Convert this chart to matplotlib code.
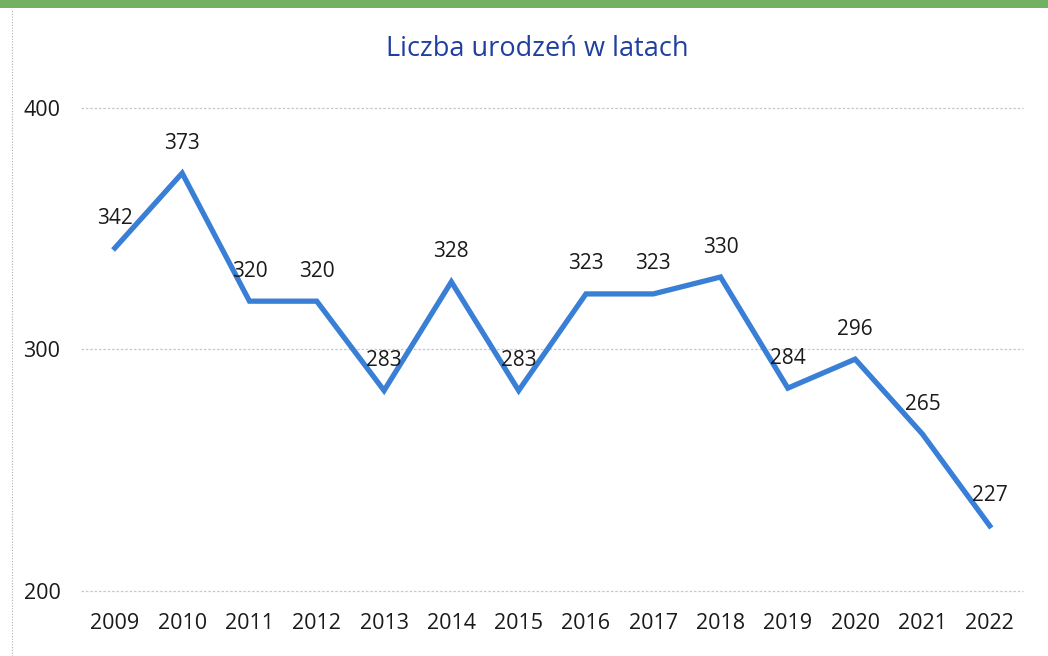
import matplotlib.pyplot as plt
from matplotlib.patches import Rectangle
from matplotlib.lines import Line2D

# data
years = ['2009', '2010', '2011', '2012', '2013', '2014', '2015',
         '2016', '2017', '2018', '2019', '2020', '2021', '2022']
births = [342, 373, 320, 320, 283, 328, 283, 323, 323, 330, 284, 296, 265, 227]
y_ticks = [200, 300, 400]

plt.rcParams['font.family'] = ['Open Sans', 'DejaVu Sans']

fig = plt.figure(figsize=(10.48, 6.56), dpi=100)
fig.patch.set_facecolor('white')

# green strip at the top of the scanned page
fig.patches.append(Rectangle((0, 0.988), 1, 0.012, transform=fig.transFigure,
                             facecolor='#72b062', edgecolor='none', zorder=0))
# dotted frame line on the left
fig.lines.append(Line2D([0.0115, 0.0115], [0, 0.985], transform=fig.transFigure,
                        color='#b0b0b0', lw=0.8, ls=(0, (1, 1.5))))

ax = fig.add_axes([0.0775, 0.099, 0.899, 0.7365])
x = list(range(len(years)))
ax.plot(x, births, color='#3a7fd6', lw=3.8, solid_joinstyle='miter', zorder=3)

for xi, v in zip(x, births):
    ax.annotate(str(v), (xi, v), xytext=(0, 14), textcoords='offset points',
                ha='center', va='bottom', fontsize=15, color='#1a1a1a')

ax.set_xlim(-0.5, len(years) - 0.5)
ax.set_ylim(200, 400)
ax.set_xticks(x)
ax.set_xticklabels(years)
ax.set_yticks(y_ticks)
ax.tick_params(axis='both', length=0, labelsize=15.5, colors='#1a1a1a')
ax.tick_params(axis='y', pad=15)
ax.tick_params(axis='x', pad=16)
for s in ax.spines.values():
    s.set_visible(False)
ax.grid(axis='y', color='#c8c8c8', lw=0.9, ls=(0, (2, 1.5)))
for gl in ax.get_ygridlines():
    gl.set_clip_on(False)
ax.set_axisbelow(True)

fig.text(0.513, 0.925, 'Liczba urodzeń w latach', ha='center', va='center',
         fontsize=19.5, color='#2040a0')

fig.savefig('out.png', dpi=100)
